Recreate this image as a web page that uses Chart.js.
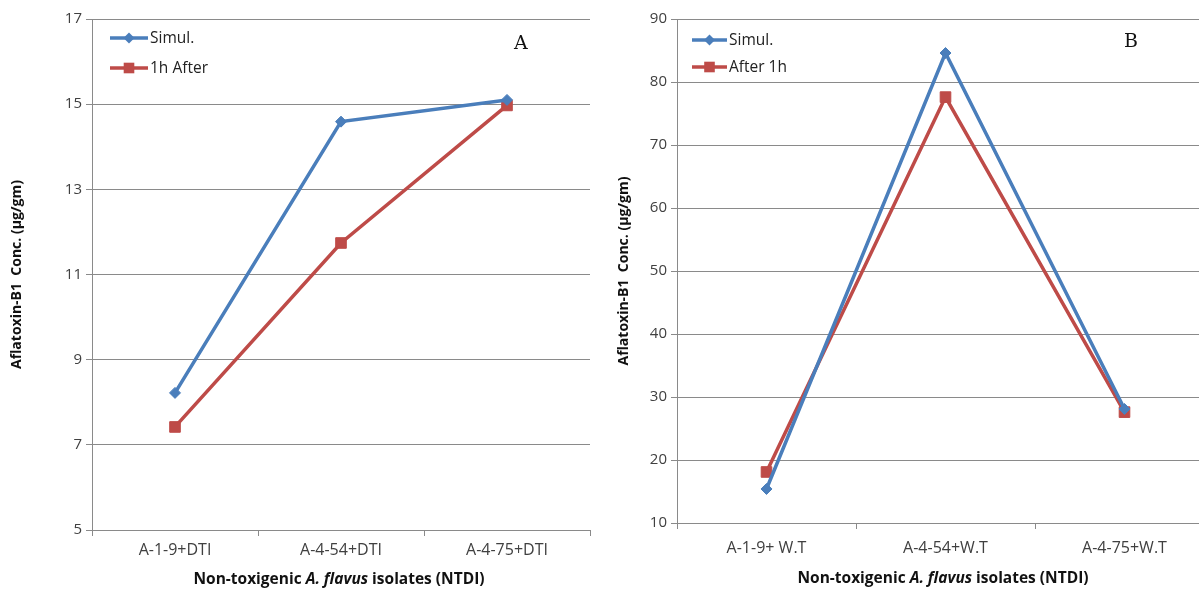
<!DOCTYPE html>
<html>
<head>
<meta charset="utf-8">
<title>Aflatoxin-B1 concentration</title>
<script src="https://cdn.jsdelivr.net/npm/chart.js@4.4.1/dist/chart.umd.min.js"></script>
<style>
    body {
        margin: 0;
        width: 1199px;
        height: 592px;
        overflow: hidden;
        background: #ffffff;
        position: relative;
        font-family: "Open Sans", sans-serif;
    }
    .panel {
        position: absolute;
        top: 0;
        height: 592px;
    }
    #panelA { left: 0; width: 600px; }
    #panelB { left: 600px; width: 630px; }
    .xtitle {
        position: absolute;
        font-weight: bold;
        font-size: 15.5px;
        color: #111;
        white-space: nowrap;
        transform: translateX(-50%);
    }
    .letter {
        position: absolute;
        font-family: "DejaVu Serif", "Liberation Serif", serif;
        font-size: 19px;
        color: #111;
    }
</style>
</head>
<body>
<div class="panel" id="panelA">
    <canvas id="chartA" width="600" height="592"></canvas>
    <div class="letter" style="left:514px; top:31px;">A</div>
    <div class="xtitle" style="left:339px; top:567px;">Non-toxigenic <i>A. flavus</i> isolates (NTDI)</div>
</div>
<div class="panel" id="panelB">
    <canvas id="chartB" width="630" height="592"></canvas>
    <div class="letter" style="left:524px; top:29px;">B</div>
    <div class="xtitle" style="left:343px; top:566px;">Non-toxigenic <i>A. flavus</i> isolates (NTDI)</div>
</div>

<script>
// Panel A: DTI treatments
const categoriesA = ["A-1-9+DTI", "A-4-54+DTI", "A-4-75+DTI"];
const simulA = [8.22, 14.59, 15.1];
const afterA = [7.42, 11.74, 14.97];
const ticksA = [5, 7, 9, 11, 13, 15, 17];

// Panel B: W.T treatments
const categoriesB = ["A-1-9+ W.T", "A-4-54+W.T", "A-4-75+W.T"];
const simulB = [15.4, 84.6, 28.1];
const afterB = [18.1, 77.6, 27.6];
const ticksB = [10, 20, 30, 40, 50, 60, 70, 80, 90];

const BLUE = "#4a7ebb";
const RED = "#be4b48";
const GRID = "#8a8a8a";
const TICK_TEXT = "#404040";
const FONT = "'Open Sans', sans-serif";

// legend drawn inside the plot area, top-left
const insideLegend = {
    id: "insideLegend",
    afterDatasetsDraw(chart, args, opts) {
        const ctx = chart.ctx;
        chart.data.datasets.forEach((ds, i) => {
            const y = opts.y + i * opts.gap;
            const mid = opts.x + opts.len / 2;
            ctx.save();
            ctx.strokeStyle = ds.borderColor;
            ctx.lineWidth = ds.borderWidth;
            ctx.beginPath();
            ctx.moveTo(opts.x, y);
            ctx.lineTo(opts.x + opts.len, y);
            ctx.stroke();

            ctx.fillStyle = ds.pointBackgroundColor;
            ctx.beginPath();
            if (ds.pointStyle === "rect") {
                const s = ds.pointRadius * Math.SQRT1_2;
                ctx.rect(mid - s, y - s, s * 2, s * 2);
            } else {
                const r = ds.pointRadius;
                ctx.moveTo(mid - r, y);
                ctx.lineTo(mid, y - r);
                ctx.lineTo(mid + r, y);
                ctx.lineTo(mid, y + r);
                ctx.closePath();
            }
            ctx.fill();

            ctx.fillStyle = "#222";
            ctx.font = "15.5px " + FONT;
            ctx.textBaseline = "middle";
            ctx.textAlign = "left";
            ctx.fillText(ds.label, opts.x + opts.len + 2, y + 1);
            ctx.restore();
        });
    },
};

function makeDataset(label, values, color, style, radius) {
    return {
        label: label,
        data: values,
        borderColor: color,
        backgroundColor: color,
        pointBackgroundColor: color,
        pointBorderColor: color,
        borderWidth: 3.5,
        pointStyle: style,
        pointRadius: radius,
        pointBorderWidth: 1,
        tension: 0,
        fill: false,
    };
}

function createChart(canvasId, cfg) {
    return new Chart(document.getElementById(canvasId), {
        type: "line",
        data: {
            labels: cfg.categories,
            datasets: [
                makeDataset(cfg.names[0], cfg.simul, BLUE, "rectRot", 5.5),
                makeDataset(cfg.names[1], cfg.after, RED, "rect", 7.5),
            ],
        },
        plugins: [insideLegend],
        options: {
            responsive: false,
            animation: false,
            layout: {
                padding: { left: 0, right: cfg.padRight, top: 19, bottom: 0 },
            },
            plugins: {
                legend: { display: false },
                tooltip: { enabled: false },
                insideLegend: cfg.legend,
            },
            scales: {
                x: {
                    offset: true,
                    afterFit: (scale) => { scale.height = cfg.axisHeight; },
                    grid: {
                        offset: true,
                        drawOnChartArea: false,
                        color: GRID,
                        tickLength: 6,
                    },
                    border: { color: GRID, width: 1 },
                    ticks: {
                        color: TICK_TEXT,
                        padding: cfg.xTickPad,
                        maxRotation: 0,
                        font: { family: FONT, size: 16 },
                    },
                },
                y: {
                    min: cfg.ticks[0],
                    max: cfg.ticks[cfg.ticks.length - 1],
                    afterFit: (scale) => { scale.width = cfg.axisWidth; },
                    afterBuildTicks: (scale) => {
                        scale.ticks = cfg.ticks.map((v) => ({ value: v }));
                    },
                    grid: {
                        color: GRID,
                        tickLength: 6,
                    },
                    border: { color: GRID, width: 1 },
                    ticks: {
                        color: TICK_TEXT,
                        padding: 4,
                        font: { family: FONT, size: 15 },
                    },
                    title: {
                        display: true,
                        text: "Aflatoxin-B1  Conc. (µg/gm)",
                        color: "#111",
                        padding: { top: cfg.titlePad, bottom: 0 },
                        font: { family: FONT, size: 14, weight: "bold" },
                    },
                },
            },
        },
    });
}

createChart("chartA", {
    categories: categoriesA,
    simul: simulA,
    after: afterA,
    ticks: ticksA,
    names: ["Simul.", "1h After"],
    axisWidth: 92,
    axisHeight: 62,
    xTickPad: 5,
    titlePad: 9,
    padRight: 10,
    legend: { x: 110, y: 38, gap: 30, len: 38 },
});

createChart("chartB", {
    categories: categoriesB,
    simul: simulB,
    after: afterB,
    ticks: ticksB,
    names: ["Simul.", "After 1h"],
    axisWidth: 77,
    axisHeight: 69,
    xTickPad: 10,
    titlePad: 16,
    padRight: 16,
    legend: { x: 92, y: 40, gap: 27, len: 35 },
});
</script>
</body>
</html>
